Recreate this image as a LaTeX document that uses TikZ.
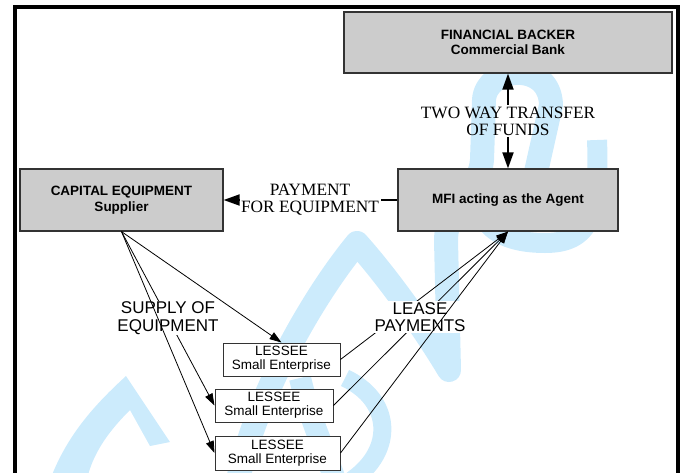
\documentclass[tikz,border=0pt]{standalone}
\usepackage{fontspec}
\setmainfont{Liberation Sans}
\newfontfamily\timesfont{Liberation Serif}
\usetikzlibrary{arrows.meta}
\definecolor{boxgray}{RGB}{204,204,204}
\definecolor{wmblue}{RGB}{204,235,252}

\begin{document}
\begin{tikzpicture}[x=1pt,y=-1pt,
  graybox/.style={draw=black!80,line width=1.2pt,fill=boxgray,align=center,inner sep=0pt,
    font=\bfseries\fontsize{13.5}{15.5}\selectfont},
  lessee/.style={draw=black!80,line width=1pt,fill=white,align=center,inner sep=0pt,
    minimum height=33pt,font=\fontsize{13.5}{14}\selectfont},
  flowlbl/.style={align=center,inner sep=1.5pt,font=\timesfont\fontsize{17.3}{16.8}\selectfont},
  sanslbl/.style={align=center,inner sep=1pt,fill=white,font=\fontsize{17}{17.5}\selectfont},
  bigarrow/.style={line width=1.8pt,-{Triangle[length=16pt,width=11pt]}},
  thinarrow/.style={line width=0.8pt,-{Triangle[length=12pt,width=8pt]}},
  wm/.style={draw=wmblue,line join=round}]
\useasboundingbox (0,0) rectangle (681,472);
\clip (0,0) rectangle (681,472);

% background logo strokes
\draw[wm,line width=24pt] (238,480) .. controls (255,400) and (310,300) .. (357,243)
  .. controls (390,280) and (425,330) .. (449,370) -- (446,240)
  .. controls (447,200) and (480,190) .. (482,160) -- (484,100)
  .. controls (486,66) and (550,60) .. (551,105) -- (536,172);
\draw[wm,line width=20pt] (597,140) .. controls (600,215) and (590,243) .. (545,243)
  .. controls (515,243) and (495,235) .. (485,220);
\draw[wm,line width=18pt] (345,378) .. controls (392,400) and (395,450) .. (352,480);
\draw[wm,line width=22pt] (300,378) .. controls (310,420) and (325,450) .. (335,480);
\fill[wmblue] (52,475) .. controls (70,430) and (100,400) .. (126,376) -- (170,442)
  -- (150,446) -- (130,410) .. controls (110,430) and (95,450) .. (88,475) -- cycle;

\draw[line width=4pt] (15,7) rectangle (677.5,490);

\node[graybox,minimum width=328pt,minimum height=61pt] (bank) at (508,42.5) {FINANCIAL BACKER\\Commercial Bank};
\node[graybox,minimum width=220pt,minimum height=62pt] (mfi) at (508,200) {MFI acting as the Agent};
\node[graybox,minimum width=203pt,minimum height=62pt] (sup) at (121.5,200) {CAPITAL EQUIPMENT\\Supplier};
\node[lessee,minimum width=117pt] (les1) at (281.5,359.5) {LESSEE\\Small Enterprise};
\node[lessee,minimum width=118pt] (les2) at (274,405.5) {LESSEE\\Small Enterprise};
\node[lessee,minimum width=125pt,minimum height=34pt] (les3) at (277.5,453) {LESSEE\\Small Enterprise};

% funds between bank and MFI
\node[flowlbl] (twoway) at (508,121) {TWO WAY TRANSFER\\OF FUNDS};
\draw[bigarrow] (twoway) -- (bank);
\draw[bigarrow] (twoway) -- (mfi);

% payment to the supplier
\node[flowlbl] (pay) at (310,200) {PAYMENT\\FOR EQUIPMENT};
\draw[line width=1.8pt] (mfi) -- (pay);
\draw[bigarrow] (pay) -- (sup);

% equipment out to the lessees
\draw[thinarrow] (sup.south) -- (les1.north);
\draw[thinarrow] (sup.south) -- (les2.west);
\node[sanslbl] (supply) at (168,318) {SUPPLY OF\\EQUIPMENT};
\draw[thinarrow] (sup.south) -- (les3.west);

% lease payments back to the MFI
\draw[thinarrow] (les1.east) -- (mfi.south);
\draw[thinarrow] (les2.east) -- (mfi.south);
\node[sanslbl] (lease) at (420,317) {LEASE\\PAYMENTS};
\draw[thinarrow] (les3.east) -- (mfi.south);
\end{tikzpicture}
\end{document}
